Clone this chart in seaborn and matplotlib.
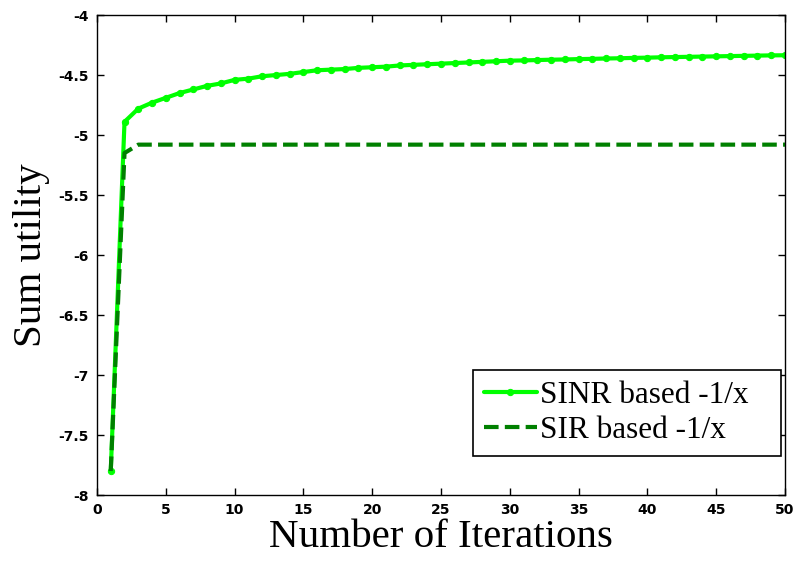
import matplotlib
matplotlib.use("Agg")
import matplotlib.pyplot as plt
import seaborn as sns

# iterations 1..50
iteracoes = list(range(1, 51))

sinr = [-7.80, -4.89, -4.78, -4.73, -4.69, -4.65, -4.62, -4.59, -4.57, -4.54,
        -4.53, -4.51, -4.50, -4.49, -4.475, -4.46, -4.455, -4.45, -4.44, -4.435,
        -4.43, -4.42, -4.415, -4.41, -4.405, -4.40, -4.395, -4.39, -4.385, -4.38,
        -4.378, -4.375, -4.372, -4.37, -4.367, -4.365, -4.362, -4.36, -4.357, -4.355,
        -4.352, -4.35, -4.348, -4.346, -4.344, -4.342, -4.34, -4.338, -4.336, -4.335]
sir = [-7.80, -5.15] + [-5.08] * 48

rotulos = ["SINR based -1/x", "SIR based -1/x"]

sns.set_style("ticks")
plt.rcParams["font.family"] = ["DejaVu Sans"]
plt.rcParams["axes.linewidth"] = 1.0
plt.rcParams["axes.edgecolor"] = "black"
plt.rcParams["xtick.color"] = "black"
plt.rcParams["ytick.color"] = "black"
plt.rcParams["text.color"] = "black"
plt.rcParams["axes.labelcolor"] = "black"

fig = plt.figure(figsize=(7.95, 5.64), dpi=100)
ax = fig.add_axes([0.122, 0.1223, 0.8654, 0.851])

sns.lineplot(x=iteracoes, y=sinr, ax=ax, color="#00ff00", linewidth=3,
             marker=".", markersize=9, markeredgecolor="#00ff00",
             label=rotulos[0])
sns.lineplot(x=iteracoes, y=sir, ax=ax, color="#008000", linewidth=3,
             linestyle="--", label=rotulos[1])
ax.lines[-1].set_dashes((3.5, 1.5))

ax.set_xlim(0, 50)
ax.set_ylim(-8, -4)
ax.set_xticks(range(0, 51, 5))
ax.set_yticks([-8, -7.5, -7, -6.5, -6, -5.5, -5, -4.5, -4])
ax.set_yticklabels(["-8", "-7.5", "-7", "-6.5", "-6", "-5.5", "-5", "-4.5", "-4"])
ax.tick_params(direction="in", length=5, width=1, top=True, right=True,
               labelsize=10, pad=6)
for t in ax.get_xticklabels() + ax.get_yticklabels():
    t.set_fontweight("bold")

ax.set_xlabel("Number of Iterations", family="Liberation Serif", fontsize=29.5, labelpad=1)
ax.set_ylabel("Sum utility", family="Liberation Serif", fontsize=29.5, labelpad=6)

leg = ax.legend(loc="lower left", bbox_to_anchor=(0.5465, 0.081, 0.4477, 0.17),
                mode="expand", borderaxespad=0,
                prop={"family": "Liberation Serif", "size": 22.5},
                fancybox=False, framealpha=1, edgecolor="black",
                handlelength=1.7, handletextpad=0.1, borderpad=0.35, labelspacing=0.2)
leg.get_frame().set_linewidth(1.2)

fig.savefig("out.png", dpi=100)
